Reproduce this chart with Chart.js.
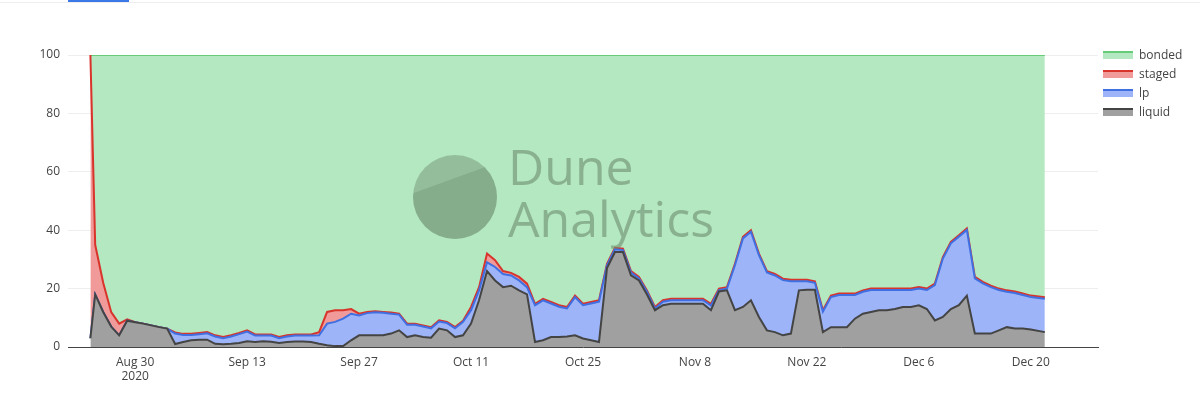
<!DOCTYPE html>
<html><head><meta charset="utf-8">
<script src="https://cdn.jsdelivr.net/npm/chart.js@4"></script>
<style>
body{margin:0;width:1200px;height:405px;overflow:hidden;background:#fff;font-family:"Open Sans",sans-serif;}
#wrap{position:relative;width:1200px;height:405px;}
#tab{position:absolute;left:68px;top:0;width:61px;height:2px;background:#3b78e7;}
#topline{position:absolute;left:0;top:2px;width:1200px;height:1px;background:#eee;}
#wm{position:absolute;left:413px;top:150px;pointer-events:none;}
#wm .c{position:absolute;left:0;top:5px;width:84px;height:84px;border-radius:50%;background:rgba(110,140,110,0.45);overflow:hidden;}
#wm .c i{position:absolute;left:-10px;top:42px;width:110px;height:60px;background:rgba(90,120,90,0.25);transform:rotate(-20deg);transform-origin:0 0;}
#wm .t{position:absolute;left:95px;top:-10px;font-family:"Open Sans",sans-serif;font-size:50px;line-height:52px;color:rgba(110,140,110,0.6);white-space:nowrap;}
#legend{position:absolute;left:1103px;top:45px;font-size:12px;color:#444;}
#legend div{height:19px;display:flex;align-items:center;}
#legend span.s{display:inline-block;width:30px;height:8px;margin-right:6px;border-top:2px solid;box-sizing:border-box;}
</style></head><body>
<div id="wrap">
<div id="tab"></div><div id="topline"></div>
<canvas id="c" width="1200" height="405"></canvas>
<div id="wm"><div class="c"><i></i></div><div class="t">Dune<br>Analytics</div></div>
<div id="legend">
<div><span class="s" style="background:#b3e8c0;border-color:#66cc77"></span>bonded</div>
<div><span class="s" style="background:#f09a9a;border-color:#d9342b"></span>staged</div>
<div><span class="s" style="background:#9db4f8;border-color:#3f6fe0"></span>lp</div>
<div><span class="s" style="background:#a0a0a0;border-color:#444"></span>liquid</div>
</div>
</div>
<script>
// day 0 = 2020-08-24
const tickDays=[6,20,34,48,62,76,90,104,118];
const tickLabels=["Aug 30","Sep 13","Sep 27","Oct 11","Oct 25","Nov 8","Nov 22","Dec 6","Dec 20"];
// cumulative level: liquid
const liquid=[3,18,12,7,4,9,8.5,8,7.4,6.8,6.3,
1,1.7,2.3,2.5,2.5,1.1,0.9,1.1,1.4,2,
1.7,2,1.8,1.4,1.7,1.9,1.9,1.7,1.1,0.6,
0.3,0.3,2.3,4,4,4,4,4.6,5.7,3.4,
4,3.4,3.2,6.3,5.7,3.4,4,8,16,26,
22.8,20.5,21,19.4,18,1.7,2.3,3.4,3.4,3.6,
4,2.9,2.3,1.7,27,32.5,32.5,24.5,22.8,18,
12.6,14.3,14.8,14.8,14.8,14.8,14.8,12.6,19,19.4,
12.6,13.7,16,10.3,5.7,5.1,4,4.6,19.4,19.6,
19.6,5.1,6.8,6.8,6.8,9.7,11.4,12,12.6,12.6,
13,13.7,13.7,14.3,13,9.1,10.3,13,14.3,17.6,
4.6,4.6,4.6,5.7,6.8,6.3,6.3,6,5.1];
// cumulative level: liquid + lp
const lp=[3,18,12,7,4,9,8.5,8,7.4,6.8,6.3,
4.6,4.1,4.1,4.4,4.7,3.6,3,3.6,4.4,5.3,
3.9,3.9,3.9,3,3.6,3.9,3.9,3.9,
4,8,8.6,9.7,11.4,10.8,11.6,11.9,11.7,11.4,11.1,
7.6,7.6,7,6.4,8.7,8.2,6.4,8.6,12.6,19.4,29,
27.4,25,24.5,22.8,20.5,14.3,16,14.9,13.8,13.2,
17.1,14.3,14.9,15.5,28,33.5,33.2,25.5,23.5,18.9,
13.2,15.5,16,16,16,16,16,14.2,19.5,20,
28,37.2,39.5,31.5,25.5,24.5,22.9,22.5,22.5,22.5,
22,12.1,17.1,17.8,17.8,17.8,18.9,19.5,19.5,19.5,
19.5,19.5,19.5,20,19.5,21.2,30.3,35.5,37.8,40.1,
23.5,21.8,20.5,19.5,18.9,18.5,17.8,17.1,16.5];
// cumulative level: liquid + lp + staged
const staged=[100,35,22,12,8,9.5,8.5,8,7.4,6.8,6.3,
5,4.5,4.5,4.8,5.1,4,3.4,4,4.8,5.7,
4.3,4.3,4.3,3.4,4,4.3,4.3,4.3,5.1,12,
12.6,12.6,13,11.4,12,12.2,12,11.8,11.4,8,
8,7.4,6.8,9.1,8.6,6.8,9,13.7,20.5,32,
29.7,26,25.4,24,21.7,14.8,16.5,15.4,14.3,13.7,
17.6,14.8,15.4,16,28.5,34,33.7,26,24,19.4,
13.7,16,16.5,16.5,16.5,16.5,16.5,14.8,20,20.5,
28.5,37.7,40,32,26,25,23.4,23,23,23,
22.5,12.6,17.6,18.3,18.3,18.3,19.4,20,20,20,
20,20,20,20.5,20,21.7,30.8,36,38.3,40.6,
24,22.3,21,20,19.4,19,18.3,17.6,17];
const bonded=staged.map(()=>100);
const pts=a=>a.map((v,i)=>({x:i===0?0.4:(i===a.length-1?119.75:i),y:v}));
new Chart(document.getElementById('c'),{
type:'line',
data:{datasets:[
{label:'liquid',data:pts(liquid),borderColor:'#444',backgroundColor:'#a0a0a0',fill:'origin',borderWidth:2},
{label:'lp',data:pts(lp),borderColor:'#3f6fe0',backgroundColor:'#9db4f8',fill:'-1',borderWidth:2},
{label:'staged',data:pts(staged),borderColor:'#d9342b',backgroundColor:'#f09a9a',fill:'-1',borderWidth:2},
{label:'bonded',data:pts(bonded),borderColor:'#66cc77',backgroundColor:'#b3e8c0',fill:'-1',borderWidth:2}
]},
options:{responsive:false,animation:false,
elements:{point:{radius:0},line:{tension:0}},
layout:{padding:{top:55,right:102,bottom:0,left:0}},
plugins:{legend:{display:false},tooltip:{enabled:false}},
scales:{
x:{type:'linear',min:-2.4,max:126.4,
afterBuildTicks:ax=>{ax.ticks=tickDays.map(v=>({value:v}));},
afterFit:ax=>{ax.height=58;},
grid:{color:'#eee',drawTicks:false},border:{color:'#444',width:1},
ticks:{padding:8,color:'#444',font:{family:'Open Sans',size:12},maxRotation:0,
callback:(v)=>{const i=tickDays.indexOf(v);if(i<0)return '';return i===0?[tickLabels[i],'2020']:tickLabels[i];}}},
y:{min:0,max:100,afterFit:ax=>{ax.width=68;},
grid:{color:'#eee',drawTicks:false},border:{display:false},
ticks:{stepSize:20,padding:8,color:'#444',font:{family:'Open Sans',size:12}}}
}}
});
</script>
</body></html>
